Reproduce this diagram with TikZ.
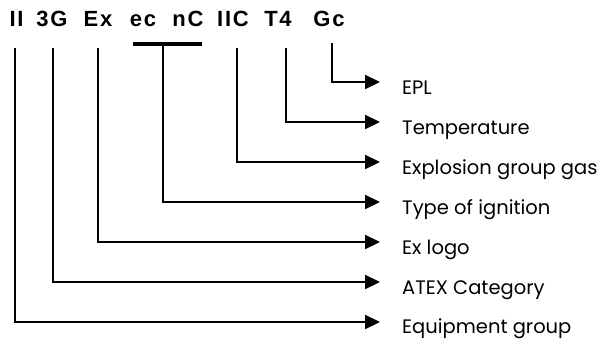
\documentclass[tikz,border=0pt]{standalone}
\usepackage{fontspec}
\setmainfont{Liberation Sans}
\newfontfamily\titlefont[LetterSpace=8]{Liberation Sans}
\newfontfamily\labfont{Poppins}
\usetikzlibrary{arrows.meta}
\begin{document}
\begin{tikzpicture}[x=1pt,y=-1pt,
  tok/.style={font=\titlefont\fontsize{22}{24}\selectfont\bfseries, inner sep=0pt, anchor=base},
  lab/.style={font=\labfont\fontsize{19.5}{22}\selectfont, inner sep=0pt, anchor=base west},
  conn/.style={line width=2.2pt, -{Triangle[length=15pt,width=14pt]}},
  bar/.style={line width=4pt}]
\useasboundingbox (0,0) rectangle (603,340);
% title tokens
\node[tok] (t1) at (16.5,26) {II};
\node[tok] (t2) at (52,26) {3G};
\node[tok] (t3) at (98,26) {Ex};
\node[tok] (t4) at (143,26) {ec};
\node[tok] (t5) at (188,26) {nC};
\node[tok] (t6) at (233,26) {IIC};
\node[tok] (t7) at (278,26) {T4};
\node[tok] (t8) at (329,26) {Gc};
% top points
\coordinate (s1) at (15,48);
\coordinate (s2) at (53,48);
\coordinate (s3) at (98,48);
\coordinate (s45) at (163,45);
\coordinate (s6) at (237,48);
\coordinate (s7) at (286,48);
\coordinate (s8) at (332,43);
\coordinate (bl) at (133,43.5);
\coordinate (br) at (202,43.5);
\draw[bar] (bl) -- (br);
% arrow tips
\coordinate (a8) at (380,82);
\coordinate (a7) at (380,122);
\coordinate (a6) at (380,162);
\coordinate (a45) at (380,202);
\coordinate (a3) at (380,242);
\coordinate (a2) at (380,282);
\coordinate (a1) at (380,322);
% labels
\node[lab] (l8) at (402,94) {EPL};
\node[lab] (l7) at (402,134) {Temperature};
\node[lab] (l6) at (402,174) {Explosion group gas};
\node[lab] (l45) at (402,214) {Type of ignition};
\node[lab] (l3) at (402,254) {Ex logo};
\node[lab] (l2) at (402,294) {ATEX Category};
\node[lab] (l1) at (402,333) {Equipment group};
% connectors
\draw[conn] (s8) |- (a8);
\draw[conn] (s7) |- (a7);
\draw[conn] (s6) |- (a6);
\draw[conn] (s45) |- (a45);
\draw[conn] (s3) |- (a3);
\draw[conn] (s2) |- (a2);
\draw[conn] (s1) |- (a1);
\end{tikzpicture}
\end{document}
